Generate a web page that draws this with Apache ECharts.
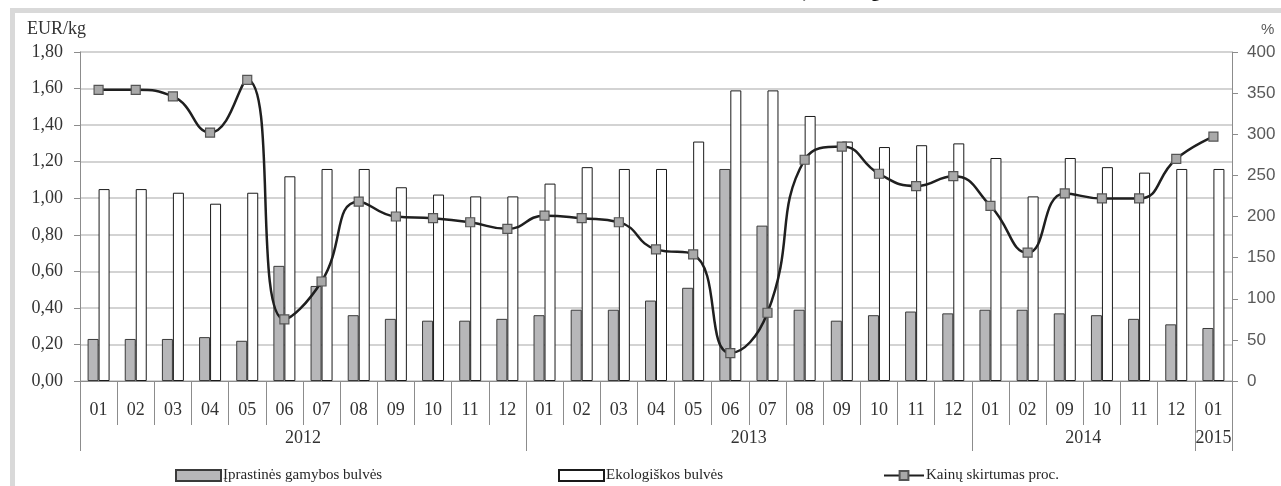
<!DOCTYPE html>
<html>
<head>
<meta charset="utf-8">
<script src="https://cdn.jsdelivr.net/npm/echarts@6/dist/echarts.min.js"></script>
<style>
html,body{margin:0;padding:0;background:#fff;}
#c{width:1281px;height:486px;}
</style>
</head>
<body>
<div id="c"></div>
<script>
const months = ['01','02','03','04','05','06','07','08','09','10','11','12',
                '01','02','03','04','05','06','07','08','09','10','11','12',
                '01','02','09','10','11','12','01'];
const years = ['2012','2013','2014','2015'];
const yearCounts = [12,12,6,1];
const conventional = [0.23,0.23,0.23,0.24,0.22,0.63,0.52,0.36,0.34,0.33,0.33,0.34,
                      0.36,0.39,0.39,0.44,0.51,1.16,0.85,0.39,0.33,0.36,0.38,0.37,
                      0.39,0.39,0.37,0.36,0.34,0.31,0.29];
const ecological = [1.05,1.05,1.03,0.97,1.03,1.12,1.16,1.16,1.06,1.02,1.01,1.01,
                    1.08,1.17,1.16,1.16,1.31,1.59,1.59,1.45,1.31,1.28,1.29,1.30,
                    1.22,1.01,1.22,1.17,1.14,1.16,1.16];
const priceDiff = [354,354,346,302,366,75,121,218,200,198,193,185,
                   201,198,193,160,154,34,83,269,285,252,237,249,
                   213,156,228,222,222,270,297];
const seriesNames = ['Įprastinės gamybos bulvės','Ekologiškos bulvės','Kainų skirtumas proc.'];

// year axis helpers
const yearLabels = months.map(() => '');
const yearShift = months.map(() => false);
const boundaries = [];
let start = 0;
years.forEach((y, i) => {
  const n = yearCounts[i];
  boundaries.push(start);
  if (n % 2 === 0) { yearLabels[start + n/2 - 1] = y; yearShift[start + n/2 - 1] = true; }
  else { yearLabels[start + (n-1)/2] = y; }
  start += n;
});

const serif = 'Liberation Serif';
const legendText = {fontFamily: serif, fontSize: 15, color: '#262626', padding:[0,0,0,-3]};
const chart = echarts.init(document.getElementById('c'));
chart.setOption({
  animation: false,
  backgroundColor: '#fff',
  graphic: [
    {type:'rect', shape:{x:10,y:8,width:1271,height:5}, style:{fill:'#d9d9d9'}, silent:true},
    {type:'rect', shape:{x:10,y:8,width:5,height:478}, style:{fill:'#d9d9d9'}, silent:true},
    {type:'text', x:880, y:-17, style:{text:'), EUR/kg', font:'bold 18px "Liberation Serif"', fill:'#111', textAlign:'right', textVerticalAlign:'top'}},
    {type:'text', x:27, y:20, style:{text:'EUR/kg', font:'18px "Liberation Serif"', fill:'#333'}},
    {type:'text', x:1261, y:22, style:{text:'%', font:'15px "Liberation Sans"', fill:'#595959'}}
  ],
  grid: {left: 80, right: 49, top: 52, bottom: 105},
  legend: [
    {left: 170, top: 463, itemWidth: 45, itemHeight: 11, textStyle: legendText,
     data: [{name: seriesNames[0], icon: 'rect'}]},
    {left: 553, top: 463, itemWidth: 45, itemHeight: 11, textStyle: legendText,
     data: [{name: seriesNames[1], icon: 'rect'}]},
    {left: 878, top: 463, itemWidth: 40, itemHeight: 11, textStyle: legendText,
     data: [{name: seriesNames[2]}]}
  ],
  xAxis: [
    {
      type: 'category', data: months, position: 'bottom',
      axisLine: {show: true, lineStyle: {color: '#8c8c8c', width: 1}},
      axisTick: {show: true, interval: 0, length: 44, lineStyle: {color: '#8c8c8c'}},
      axisLabel: {interval: 0, margin: 20, fontFamily: serif, fontSize: 18, color: '#333'}
    },
    {
      type: 'category', data: yearLabels, position: 'bottom',
      axisLine: {show: false},
      axisTick: {show: true, interval: (idx) => boundaries.indexOf(idx) >= 0, length: 70, lineStyle: {color: '#8c8c8c'}},
      axisLabel: {
        interval: 0, margin: 48, fontFamily: serif, fontSize: 18, color: '#333',
        formatter: (v, idx) => v ? (yearShift[idx] ? '{s|' + v + '}' : '{n|' + v + '}') : '',
        rich: {
          s: {padding: [0,0,0,37], fontFamily: serif, fontSize: 18, color: '#333'},
          n: {fontFamily: serif, fontSize: 18, color: '#333'}
        }
      }
    }
  ],
  yAxis: [
    {
      type: 'value', min: 0, max: 1.8, interval: 0.2, position: 'left',
      axisLine: {show: true, lineStyle: {color: '#8c8c8c'}},
      axisTick: {show: true, length: 6, lineStyle: {color: '#8c8c8c'}},
      axisLabel: {margin: 17, fontFamily: serif, fontSize: 18, color: '#333',
        formatter: (v) => v.toFixed(2).replace('.', ',')},
      splitLine: {show: true, lineStyle: {color: '#c4c4c4', width: 1.5}}
    },
    {
      type: 'value', min: 0, max: 400, interval: 50, position: 'right',
      axisLine: {show: true, lineStyle: {color: '#8c8c8c'}},
      axisTick: {show: true, length: 6, lineStyle: {color: '#8c8c8c'}},
      axisLabel: {margin: 15, fontFamily: 'Liberation Sans', fontSize: 17, color: '#595959'},
      splitLine: {show: false}
    }
  ],
  series: [
    {
      name: seriesNames[0], type: 'bar', data: conventional, xAxisIndex: 0, yAxisIndex: 0,
      barWidth: 11, barGap: '0%',
      itemStyle: {color: '#b7b7b9', borderColor: '#3a3a3a', borderWidth: 1}
    },
    {
      name: seriesNames[1], type: 'bar', data: ecological, xAxisIndex: 0, yAxisIndex: 0,
      barWidth: 11, barGap: '0%',
      itemStyle: {color: '#ffffff', borderColor: '#1a1a1a', borderWidth: 1}
    },
    {
      name: seriesNames[2], type: 'line', data: priceDiff, xAxisIndex: 0, yAxisIndex: 1,
      smooth: 0.5, symbol: 'rect', symbolSize: 9, z: 5,
      lineStyle: {color: '#1f1f1f', width: 2.5},
      itemStyle: {color: '#a9a9a9', borderColor: '#555', borderWidth: 1.2}
    }
  ]
});
</script>
</body>
</html>
